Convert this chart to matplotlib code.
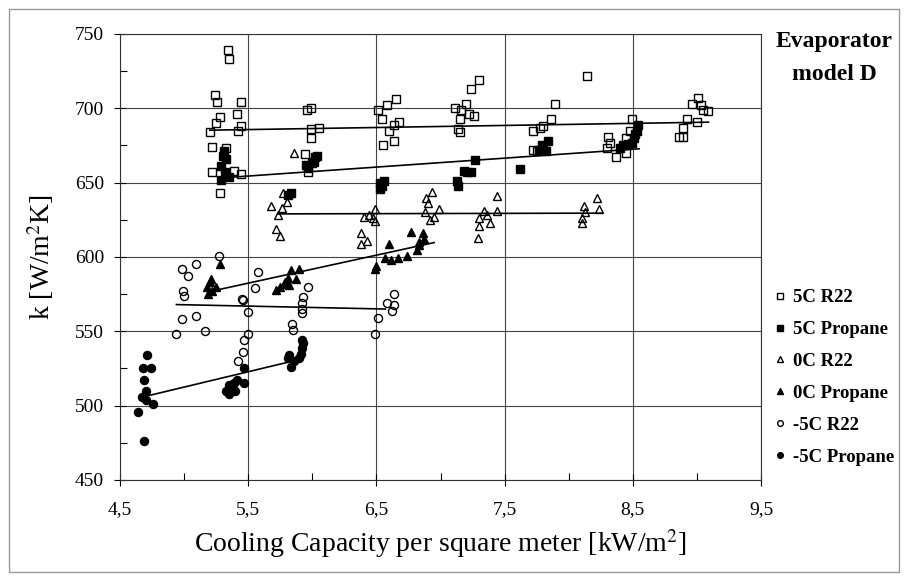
"""
Overall heat transfer coefficient k vs. cooling capacity per m2, evaporator model D.
"""

import matplotlib
matplotlib.use("Agg")
import matplotlib.pyplot as plt
from matplotlib.ticker import FixedLocator, MultipleLocator, FuncFormatter
from matplotlib.patches import Rectangle

plt.rcParams['font.family'] = ['Liberation Serif', 'DejaVu Serif']
plt.rcParams['mathtext.fontset'] = 'stix'

# Data
# 5C R22
x_5c_r22 = [5.34, 5.35, 5.24, 5.26, 5.44, 5.41, 5.28, 5.25, 5.20, 5.44, 5.42, 5.22, 5.33, 5.22, 5.39, 5.44, 5.28,
            5.96, 5.99, 5.99, 6.05, 5.99, 5.94, 5.97,
            6.51, 6.58, 6.65, 6.54, 6.64, 6.68, 6.60, 6.55, 6.64,
            7.30, 7.24, 7.11, 7.16, 7.20, 7.22, 7.26, 7.15, 7.14, 7.15,
            8.14, 7.89, 7.86, 7.80, 7.78, 7.72, 7.72, 7.75,
            8.31, 8.32, 8.30, 8.37, 8.45, 8.49, 8.48, 8.45,
            9.01, 8.96, 9.03, 9.05, 9.09, 8.92, 9.00, 8.89, 8.86, 8.89]
y_5c_r22 = [739, 733, 709, 704, 704, 696, 694, 690, 684, 688, 685, 674, 673, 657, 658, 656, 643,
            699, 700, 686, 687, 680, 669, 657,
            699, 702, 706, 693, 689, 691, 685, 675, 678,
            719, 713, 700, 699, 703, 696, 695, 693, 686, 684,
            722, 703, 693, 688, 687, 685, 672, 671,
            681, 677, 673, 667, 670, 693, 685, 680,
            707, 703, 702, 699, 698, 693, 691, 687, 681, 681]

# 5C Propane
x_5c_prop = [5.30, 5.33, 5.29, 5.32, 5.29, 5.35, 5.31,
             5.83, 5.81,
             6.04, 6.01, 5.95, 5.97, 6.00, 6.02,
             6.53, 6.56, 6.53, 6.54,
             7.27, 7.18, 7.24, 7.13, 7.14, 7.21,
             7.62,
             7.80, 7.84, 7.82, 7.77, 7.79,
             8.54, 8.53, 8.51, 8.49, 8.42, 8.40, 8.46, 8.52]
y_5c_prop = [668, 666, 661, 657, 652, 654, 671,
             643, 642,
             668, 664, 662, 660, 663, 667,
             650, 651, 646, 648,
             665, 658, 657, 651, 648, 657,
             659,
             673, 678, 671, 672, 675,
             689, 685, 680, 677, 675, 673, 676, 683]

# 0C R22
x_0c_r22 = [5.77, 5.80, 5.68, 5.76, 5.73, 5.72, 5.75, 5.86,
            6.40, 6.38, 6.38, 6.43, 6.49, 6.47, 6.49, 6.44,
            6.93, 6.89, 6.90, 6.99, 6.92, 6.95, 6.88,
            7.44, 7.44, 7.34, 7.30, 7.39, 7.30, 7.29, 7.36,
            8.22, 8.24, 8.12, 8.10, 8.10, 8.13]
y_0c_r22 = [643, 637, 634, 633, 628, 619, 614, 670,
            627, 616, 609, 611, 632, 626, 624, 628,
            644, 640, 636, 632, 625, 627, 630,
            641, 631, 631, 626, 623, 621, 613, 628,
            640, 632, 634, 626, 623, 630]

# 0C Propane
x_0c_prop = [5.28, 5.20, 5.18, 5.22, 5.19, 5.25, 5.21,
             5.72, 5.75, 5.79, 5.83, 5.90, 5.81, 5.87, 5.82, 5.78,
             6.49, 6.50, 6.57, 6.61, 6.67, 6.74, 6.82, 6.60, 6.77, 6.86, 6.83, 6.87, 6.83]
y_0c_prop = [595, 583, 580, 577, 575, 580, 585,
             578, 580, 583, 591, 592, 586, 585, 581, 582,
             592, 594, 599, 598, 599, 601, 605, 609, 617, 616, 610, 612, 608]

# -5C R22
x_m5c_r22 = [5.27, 5.09, 4.98, 5.03, 4.99, 5.00, 5.58, 5.55, 5.46, 5.50, 4.98, 5.09, 4.94, 5.16,
             5.50, 5.47, 5.46, 5.42, 5.45,
             5.97, 5.93, 5.92, 5.92, 5.92, 5.84, 5.85,
             6.49, 6.64, 6.58, 6.64, 6.62, 6.51]
y_m5c_r22 = [601, 595, 592, 587, 577, 574, 590, 579, 571, 563, 558, 560, 548, 550,
             548, 544, 536, 530, 572,
             580, 573, 569, 565, 562, 555, 551,
             548, 575, 569, 568, 564, 559]

# -5C Propane
x_m5c_prop = [4.71, 4.68, 4.74, 4.69, 4.70, 4.70, 4.76, 4.64, 4.69, 4.67,
              5.35, 5.37, 5.35, 5.40, 5.39, 5.47, 5.47, 5.41, 5.33,
              5.92, 5.93, 5.92, 5.91, 5.90, 5.82, 5.83, 5.81, 5.86]
y_m5c_prop = [534, 525, 525, 517, 510, 504, 501, 496, 476, 506,
              514, 511, 508, 510, 515, 515, 525, 517, 510,
              544, 542, 539, 535, 532, 534, 526, 532, 530]

# Trend line end points (start, end) per series
trend_x = [[5.20, 9.09], [5.29, 8.55], [5.73, 8.26], [5.25, 6.95], [4.94, 6.57], [4.70, 5.93]]
trend_y = [[685.3, 690.7], [653.2, 672.8], [629.0, 629.5], [577.7, 609.7], [568.0, 565.0], [506.3, 531.7]]

labels = ['5C R22', '5C Propane', '0C R22', '0C Propane', '-5C R22', '-5C Propane']
xs = [x_5c_r22, x_5c_prop, x_0c_r22, x_0c_prop, x_m5c_r22, x_m5c_prop]
ys = [y_5c_r22, y_5c_prop, y_0c_r22, y_0c_prop, y_m5c_r22, y_m5c_prop]
markers = ['s', 's', '^', '^', 'o', 'o']
filled = [False, True, False, True, False, True]

x_major = [4.5, 5.5, 6.5, 7.5, 8.5, 9.5]
x_minor = [5.0, 6.0, 7.0, 8.0, 9.0]

fig = plt.figure(figsize=(9.08, 5.78), dpi=100)
ax = fig.add_axes([120/908, 1 - 480/578, 641/908, 446/578])

handles = []
for x, y, m, f, lab in zip(xs, ys, markers, filled, labels):
    h, = ax.plot(x, y, linestyle='none', marker=m, markersize=5.8,
                 markerfacecolor='black' if f else 'none',
                 markeredgecolor='black', markeredgewidth=1.0, label=lab)
    handles.append(h)

for tx, ty in zip(trend_x, trend_y):
    ax.plot(tx, ty, color='black', linewidth=1.2)

ax.set_xlim(4.5, 9.5)
ax.set_ylim(450, 750)
ax.xaxis.set_major_locator(FixedLocator(x_major))
ax.xaxis.set_minor_locator(FixedLocator(x_minor))
ax.yaxis.set_major_locator(MultipleLocator(50))
ax.yaxis.set_minor_locator(MultipleLocator(25))
ax.xaxis.set_major_formatter(FuncFormatter(lambda v, p: f"{v:.1f}".replace('.', ',')))

ax.grid(True, which='major', color='#444444', linewidth=0.8)
for s in ax.spines.values():
    s.set_color('#333333')
    s.set_linewidth(0.8)

ax.tick_params(which='major', direction='inout', length=9, width=0.8, labelsize=14)
ax.tick_params(which='minor', direction='in', length=5, width=0.8)
ax.tick_params(axis='x', which='major', pad=11)
ax.tick_params(axis='y', which='major', pad=7)

ax.set_xlabel('Cooling Capacity per square meter [kW/m$^2$]', fontsize=20)
ax.set_ylabel('k [W/m$^2$K]', fontsize=20)
ax.xaxis.set_label_coords(0.5, -0.105)
ax.yaxis.set_label_coords(-0.10, 0.5)

fig.text(834/908, 1 - 41/578, 'Evaporator', fontsize=17, fontweight='bold', ha='center', va='center')
fig.text(834/908, 1 - 75/578, 'model D', fontsize=17, fontweight='bold', ha='center', va='center')

leg = fig.legend(handles=handles, loc='upper left', bbox_to_anchor=(772/908, 1 - 289/578),
                 frameon=False, markerscale=0.7, handlelength=0.8, handletextpad=0.3,
                 labelspacing=0.79, borderpad=0, borderaxespad=0,
                 prop={'family': 'Liberation Serif', 'weight': 'bold', 'size': 13.5})

# Thin frame round the whole chart
fig.patches.append(Rectangle((9/908, 6/578), 890/908, 563/578, transform=fig.transFigure,
                             fill=False, edgecolor='#999999', linewidth=1.0))

fig.savefig('out.png', dpi=100)
